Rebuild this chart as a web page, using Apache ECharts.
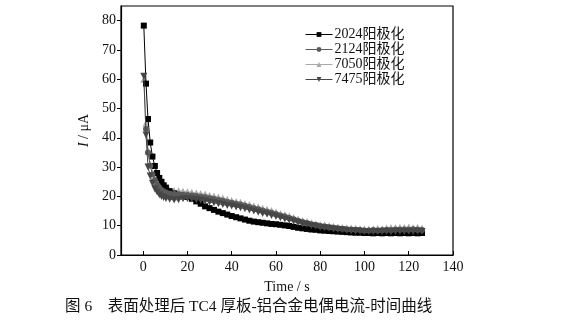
<!DOCTYPE html>
<html>
<head>
<meta charset="utf-8">
<script src="https://cdn.jsdelivr.net/npm/echarts@6/dist/echarts.min.js"></script>
<style>
  html, body { margin: 0; padding: 0; background: #fff; }
  #chart { width: 573px; height: 328px; }
</style>
</head>
<body>
<div id="chart"></div>
<script>
// Sampling times (s)
var times = [0.3, 1.3, 2.2, 3.2, 4.2, 5.3, 6.3, 7.3, 8.3, 9.3, 10.3,
  12, 14, 16, 18, 20, 22, 24, 26, 28, 30,
  32, 34, 36, 38, 40, 42, 44, 46, 48, 50,
  52, 54, 56, 58, 60, 62, 64, 66, 68, 70,
  72, 74, 76, 78, 80, 82, 84, 86, 88, 90,
  92, 94, 96, 98, 100, 102, 104, 106, 108, 110,
  112, 114, 116, 118, 120, 122, 124, 126];

// Galvanic current (μA) for each anodized alloy
var i2024 = [78.3, 58.5, 46.4, 38.4, 33.6, 30.4, 28.0, 26.3, 25.0, 23.8, 23.0,
  21.8, 21.0, 20.5, 20.2, 19.8, 19.2, 18.3, 17.5, 16.6, 16.0,
  15.4, 14.8, 14.3, 13.8, 13.3, 12.9, 12.5, 12.1, 11.7, 11.4,
  11.2, 11.0, 10.8, 10.6, 10.5, 10.3, 10.1, 9.9, 9.6, 9.3,
  9.1, 8.9, 8.7, 8.6, 8.4, 8.3, 8.2, 8.1, 8.0, 7.9,
  7.8, 7.7, 7.6, 7.6, 7.5, 7.5, 7.4, 7.5, 7.4, 7.5,
  7.4, 7.5, 7.4, 7.5, 7.4, 7.5, 7.4, 7.5];

var i2124 = ['-', 43, 35, 30.5, 27.5, 25.5, 24, 23, 22.2, 21.7, 21.3,
  21.0, 20.8, 20.7, 20.6, 20.5, 20.3, 20.1, 19.9, 19.7, 19.4,
  19.1, 18.8, 18.5, 18.1, 17.8, 17.5, 17.2, 16.8, 16.4, 16.0,
  15.6, 15.2, 14.8, 14.4, 14.0, 13.5, 13.1, 12.6, 12.2, 11.7,
  11.3, 10.9, 10.5, 10.2, 9.9, 9.7, 9.5, 9.3, 9.1, 9.0,
  8.8, 8.7, 8.6, 8.5, 8.4, 8.4, 8.5, 8.4, 8.5, 8.6,
  8.5, 8.7, 8.6, 8.7, 8.6, 8.8, 8.6, 8.5];

var i7050 = [60, 45, 35.5, 31, 28.2, 26.2, 24.8, 23.8, 23.2, 22.8, 22.5,
  22.2, 22.0, 21.9, 21.8, 21.6, 21.4, 21.2, 21.0, 20.8, 20.4,
  20.1, 19.8, 19.5, 19.0, 18.6, 18.3, 18.0, 17.6, 17.2, 16.8,
  16.4, 16.0, 15.6, 15.2, 14.7, 14.2, 13.8, 13.3, 12.8, 12.3,
  11.8, 11.4, 11.0, 10.7, 10.4, 10.2, 10.0, 9.8, 9.6, 9.4,
  9.3, 9.2, 9.1, 9.0, 8.9, 8.9, 9.0, 9.1, 9.0, 9.2,
  9.4, 9.3, 9.5, 9.4, 9.6, 9.3, 9.5, 9.2];

var i7475 = [61, 41, 30, 27, 24.5, 22.5, 21.5, 20.6, 20.0, 19.6, 19.3,
  19.0, 18.8, 18.9, 19.2, 19.3, 19.1, 18.9, 18.7, 18.4, 18.1,
  17.8, 17.5, 17.2, 16.9, 16.7, 16.4, 16.1, 15.8, 15.4, 15.0,
  14.6, 14.2, 13.9, 13.5, 13.1, 12.7, 12.3, 11.9, 11.5, 11.1,
  10.7, 10.4, 10.1, 9.8, 9.5, 9.3, 9.1, 8.9, 8.7, 8.6,
  8.4, 8.3, 8.2, 8.1, 8.0, 8.0, 7.9, 8.0, 7.9, 8.0,
  7.9, 8.0, 8.1, 8.0, 8.1, 8.0, 8.1, 8.0];

var seriesNames = ['2024阳极化', '2124阳极化', '7050阳极化', '7475阳极化'];
var xTicks = [0, 20, 40, 60, 80, 100, 120, 140];
var yTicks = [0, 10, 20, 30, 40, 50, 60, 70, 80];

var serifFont = "'Liberation Serif', 'Times New Roman', 'Noto Sans CJK SC', serif";

function pairs(vals) {
  return times.map(function (t, k) { return [t, vals[k]]; });
}

// colour, marker and stacking order for each curve (light grey sits underneath)
var styles = [
  { color: '#000000', symbol: 'rect', size: 6, z: 3 },
  { color: '#5a5a5a', symbol: 'circle', size: 6, z: 4 },
  { color: '#a9a9a9', symbol: 'triangle', size: 7, z: 2 },
  { color: '#464646', symbol: 'path://M0,0 L10,0 L5,9 Z', size: 7, z: 5 }
];
var valueSets = [i2024, i2124, i7050, i7475];

var series = valueSets.map(function (vals, k) {
  var s = styles[k];
  return {
    name: seriesNames[k],
    type: 'line',
    data: pairs(vals),
    z: s.z,
    symbol: s.symbol,
    symbolSize: s.size,
    showAllSymbol: true,
    connectNulls: false,
    lineStyle: { color: s.color, width: 1 },
    itemStyle: { color: s.color, borderWidth: 0 },
    emphasis: { disabled: true },
    animation: false
  };
});

var chart = echarts.init(document.getElementById('chart'), null, { renderer: 'canvas' });
chart.setOption({
  animation: false,
  backgroundColor: '#ffffff',
  grid: {
    left: 121, right: 120, top: 6, bottom: 73,
    show: true, borderColor: '#000', borderWidth: 1.2, backgroundColor: 'transparent'
  },
  legend: {
    orient: 'vertical',
    left: 300, top: 22,
    itemWidth: 27, itemHeight: 6, itemGap: 0,
    lineStyle: { width: 1, inactiveWidth: 1 },
    itemStyle: { borderWidth: 0 },
    textStyle: { fontFamily: serifFont, fontSize: 14, color: '#111', lineHeight: 15, padding: [0, 0, 0, -3] },
    data: seriesNames
  },
  xAxis: {
    type: 'value',
    min: -10, max: 140,
    name: 'Time / s',
    nameLocation: 'middle',
    nameGap: 25,
    nameTextStyle: { fontFamily: serifFont, fontSize: 14, color: '#111' },
    axisLine: { onZero: false, lineStyle: { color: '#000', width: 1.2 } },
    axisTick: { inside: true, length: 4, customValues: xTicks, lineStyle: { color: '#000', width: 1 } },
    axisLabel: { customValues: xTicks, margin: 5, fontFamily: serifFont, fontSize: 14, color: '#111' },
    splitLine: { show: false }
  },
  yAxis: {
    type: 'value',
    min: 0, max: 85,
    name: '{i|I} / μA',
    nameLocation: 'middle',
    nameGap: 26,
    nameRotate: 90,
    nameTextStyle: {
      fontFamily: serifFont, fontSize: 14, color: '#111',
      rich: { i: { fontStyle: 'italic', fontFamily: serifFont, fontSize: 14, color: '#111' } }
    },
    axisLine: { show: true, onZero: false, lineStyle: { color: '#000', width: 1.2 } },
    axisTick: { show: true, inside: false, length: 4, customValues: yTicks, lineStyle: { color: '#000', width: 1 } },
    axisLabel: { customValues: yTicks, margin: 5, fontFamily: serifFont, fontSize: 14, color: '#111' },
    splitLine: { show: false }
  },
  graphic: [{
    type: 'text',
    left: 65, top: 299,
    style: {
      text: '图 6    表面处理后 TC4 厚板-铝合金电偶电流-时间曲线',
      font: "15.5px 'Liberation Serif', 'Noto Sans CJK SC', serif",
      fill: '#111'
    }
  }],
  series: series
});
</script>
</body>
</html>
